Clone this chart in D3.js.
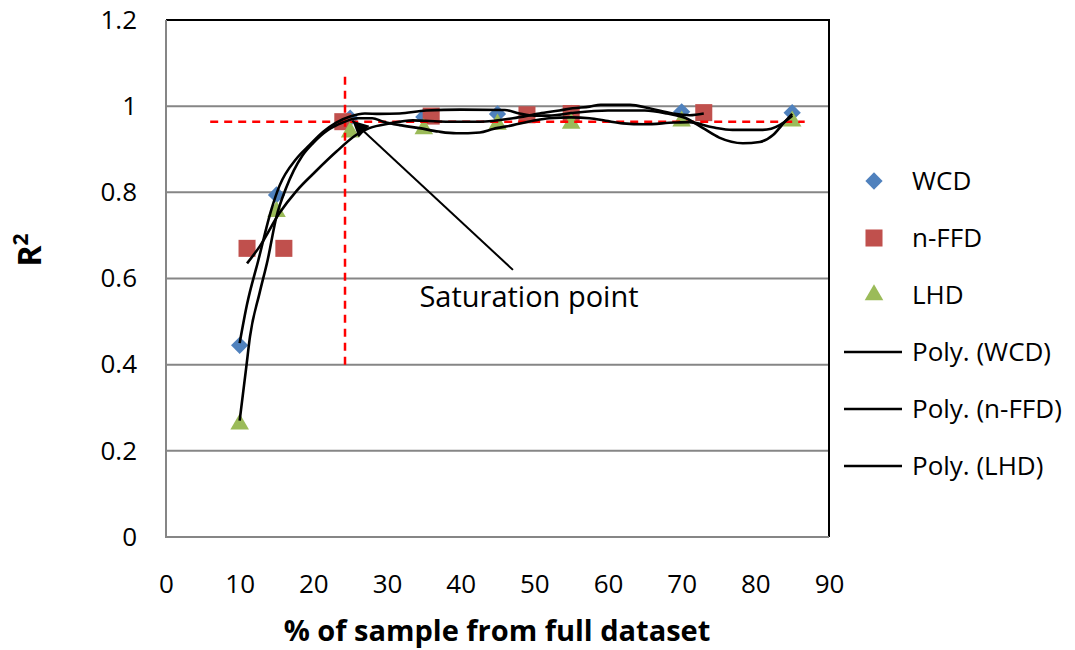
<!DOCTYPE html>
<html>
<head>
<meta charset="utf-8">
<script src="https://cdn.jsdelivr.net/npm/d3@7"></script>
<style>
  body { margin: 0; background: #fff; }
  svg text { font-family: "Open Sans", Lato, sans-serif; fill: #000; }
</style>
</head>
<body>
<div class="chart"></div>
<script>
// sample sizes (% of full dataset) and R2 per design
const wcdX = [10, 15, 25, 35, 45, 55, 70, 85];
const wcdY = [0.445, 0.794, 0.972, 0.975, 0.982, 0.983, 0.987, 0.985];
const ffdX = [11, 16, 24, 36, 49, 55, 73];
const ffdY = [0.67, 0.67, 0.964, 0.977, 0.98, 0.983, 0.985];
const lhdX = [10, 15, 25, 35, 45, 55, 70, 85];
const lhdY = [0.262, 0.755, 0.94, 0.947, 0.958, 0.96, 0.965, 0.965];

// polynomial trendlines
const polyWcdX = [10, 11, 12.5, 14.3, 15.4, 17.7, 19.5, 21.3, 23.1, 25, 27, 29, 31.7, 35.3, 40, 46, 48, 50, 52, 55, 60, 65, 68, 70.6, 72.9, 75.1, 78.3, 80.6, 82.4, 83.7, 85];
const polyWcdY = [0.45, 0.54, 0.64, 0.76, 0.815, 0.878, 0.91, 0.94, 0.962, 0.976, 0.983, 0.982, 0.983, 0.99, 0.992, 0.991, 0.983, 0.978, 0.978, 0.984, 0.99, 0.99, 0.983, 0.972, 0.949, 0.927, 0.914, 0.917, 0.933, 0.958, 0.982];
const polyFfdX = [11, 12.7, 15.4, 17.7, 20.4, 23.1, 25.8, 27.6, 30.4, 33.5, 38, 42.6, 47.1, 50.7, 53.4, 55.2, 57.5, 59, 63, 65.6, 68.8, 71.1, 73];
const polyFfdY = [0.635, 0.674, 0.752, 0.803, 0.85, 0.894, 0.933, 0.949, 0.96, 0.967, 0.964, 0.964, 0.972, 0.983, 0.99, 0.995, 0.999, 1.003, 1.003, 0.995, 0.983, 0.979, 0.983];
const polyLhdX = [10, 10.9, 11.4, 12.7, 13.8, 15, 16.3, 18.5, 20, 22, 24, 26, 28, 29.5, 31.7, 34.4, 37, 39.4, 42.6, 44.4, 47.1, 49.8, 52, 55, 57.5, 59.7, 62, 65, 69, 71, 74.2, 76.9, 81, 83.3, 84.6, 85];
const polyLhdY = [0.27, 0.395, 0.465, 0.566, 0.643, 0.744, 0.81, 0.885, 0.915, 0.945, 0.962, 0.972, 0.972, 0.964, 0.956, 0.949, 0.941, 0.937, 0.939, 0.947, 0.956, 0.966, 0.972, 0.974, 0.972, 0.966, 0.96, 0.958, 0.962, 0.963, 0.951, 0.945, 0.945, 0.956, 0.972, 0.978];

// saturation point guides
const satX = 24.3;
const satY = 0.964;
const guideH = [6, 86.7];
const guideV = [0.4, 1.068];
const arrowFrom = [47.1, 0.62];
const arrowTo = [25.3, 0.966];

const xTicks = [0, 10, 20, 30, 40, 50, 60, 70, 80, 90];
const yTicks = [0, 0.2, 0.4, 0.6, 0.8, 1, 1.2];
const legendNames = ['WCD', 'n-FFD', 'LHD', 'Poly. (WCD)', 'Poly. (n-FFD)', 'Poly. (LHD)'];

const W = 1075, H = 650;
const margin = { t: 20, r: 246, b: 113, l: 166 };

const x = d3.scaleLinear().domain([0, 90]).range([margin.l, W - margin.r]);
const y = d3.scaleLinear().domain([0, 1.2]).range([H - margin.b, margin.t]);

const svg = d3.select('.chart').append('svg')
  .attr('width', W)
  .attr('height', H);

svg.append('defs').append('marker')
  .attr('id', 'head')
  .attr('viewBox', '0 0 10 10')
  .attr('refX', 10).attr('refY', 5)
  .attr('markerWidth', 9).attr('markerHeight', 8)
  .attr('markerUnits', 'strokeWidth')
  .attr('orient', 'auto')
  .append('path')
  .attr('d', 'M0,0L10,5L0,10Z')
  .attr('fill', '#000');

// gridlines
svg.append('g')
  .selectAll('line')
  .data(yTicks.filter(d => d > 0 && d < 1.2))
  .join('line')
  .attr('x1', x(0)).attr('x2', x(90))
  .attr('y1', d => y(d)).attr('y2', d => y(d))
  .attr('stroke', '#868686')
  .attr('stroke-width', 2);

// frame: black top/right, grey axes
svg.append('path')
  .attr('d', `M${x(0)},${y(1.2)}H${x(90)}V${y(0)}`)
  .attr('fill', 'none').attr('stroke', '#000').attr('stroke-width', 2);
svg.append('path')
  .attr('d', `M${x(0)},${y(1.2)}V${y(0)}H${x(90)}`)
  .attr('fill', 'none').attr('stroke', '#868686').attr('stroke-width', 2);

// axes (labels only)
const yAxis = svg.append('g')
  .attr('transform', `translate(${x(0)},0)`)
  .call(d3.axisLeft(y).tickValues(yTicks).tickSize(0).tickPadding(29).tickFormat(d => String(d)));
const xAxis = svg.append('g')
  .attr('transform', `translate(0,${y(0)})`)
  .call(d3.axisBottom(x).tickValues(xTicks).tickSize(0).tickPadding(38).tickFormat(d => String(d)));
[yAxis, xAxis].forEach(a => {
  a.select('.domain').remove();
  a.selectAll('text').attr('font-size', 26).attr('font-family', '"Open Sans", sans-serif').attr('fill', '#000');
});

svg.append('text')
  .attr('x', 497).attr('y', 641)
  .attr('text-anchor', 'middle')
  .attr('font-size', 29).attr('font-weight', 'bold')
  .text('% of sample from full dataset');

const rLabel = svg.append('text')
  .attr('transform', 'translate(41,250) rotate(-90)')
  .attr('text-anchor', 'middle')
  .attr('font-size', 32).attr('font-weight', 'bold');
rLabel.append('tspan').text('R');
rLabel.append('tspan').attr('font-size', 21).attr('dy', -13).text('2');

// markers
const diamond = d3.symbol().type(d3.symbolDiamond2).size(190);
const square = d3.symbol().type(d3.symbolSquare).size(290);
const triangle = d3.symbol().type(d3.symbolTriangle).size(150);

function plotSeries(xs, ys, sym, color) {
  svg.append('g')
    .selectAll('path')
    .data(xs.map((v, i) => [v, ys[i]]))
    .join('path')
    .attr('transform', d => `translate(${x(d[0])},${y(d[1])})`)
    .attr('d', sym)
    .attr('fill', color);
}
plotSeries(wcdX, wcdY, diamond, '#4F81BD');
plotSeries(ffdX, ffdY, square, '#C0504D');
plotSeries(lhdX, lhdY, triangle, '#9BBB59');

// red dashed guides
const guides = svg.append('g')
  .attr('stroke', '#FF0000').attr('stroke-width', 2.5).attr('stroke-dasharray', '8,6');
guides.append('line')
  .attr('x1', x(guideH[0])).attr('x2', x(guideH[1]))
  .attr('y1', y(satY)).attr('y2', y(satY));
guides.append('line')
  .attr('x1', x(satX)).attr('x2', x(satX))
  .attr('y1', y(guideV[0])).attr('y2', y(guideV[1]));

// trendlines
const line = d3.line().x(d => x(d[0])).y(d => y(d[1])).curve(d3.curveMonotoneX);
[[polyWcdX, polyWcdY], [polyFfdX, polyFfdY], [polyLhdX, polyLhdY]].forEach(([xs, ys]) => {
  svg.append('path')
    .datum(xs.map((v, i) => [v, ys[i]]))
    .attr('d', line)
    .attr('fill', 'none')
    .attr('stroke', '#000')
    .attr('stroke-width', 2.6);
});

// annotation
svg.append('line')
  .attr('x1', x(arrowFrom[0])).attr('y1', y(arrowFrom[1]))
  .attr('x2', x(arrowTo[0])).attr('y2', y(arrowTo[1]))
  .attr('stroke', '#000').attr('stroke-width', 2)
  .attr('marker-end', 'url(#head)');
svg.append('text')
  .attr('x', 529).attr('y', 307)
  .attr('text-anchor', 'middle')
  .attr('font-size', 29)
  .text('Saturation point');

// legend
const legend = svg.append('g');
const rowY = [181, 238, 295, 352, 409, 466];
const legendItems = legend.selectAll('g')
  .data(legendNames)
  .join('g')
  .attr('transform', (d, i) => `translate(0,${rowY[i]})`);
legendItems.append('text')
  .attr('x', 912).attr('y', 0).attr('dy', '0.35em')
  .attr('font-size', 26)
  .text(d => d);
const legendSyms = [[diamond, '#4F81BD'], [square, '#C0504D'], [triangle, '#9BBB59']];
legendItems.filter((d, i) => i < 3)
  .append('path')
  .attr('transform', 'translate(874,0)')
  .attr('d', (d, i) => legendSyms[i][0]())
  .attr('fill', (d, i) => legendSyms[i][1]);
legendItems.filter((d, i) => i >= 3)
  .append('line')
  .attr('x1', 844).attr('x2', 902)
  .attr('stroke', '#000').attr('stroke-width', 2.5);
</script>
</body>
</html>
